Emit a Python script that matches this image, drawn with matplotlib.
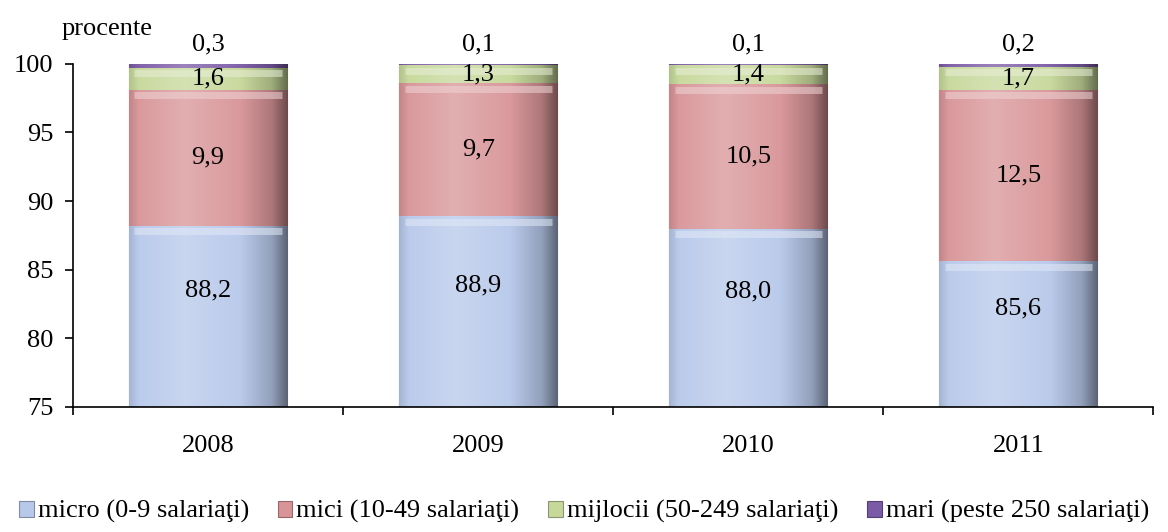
import numpy as np
import matplotlib
matplotlib.use("Agg")
import matplotlib.pyplot as plt
from matplotlib.colors import LinearSegmentedColormap, to_rgb

plt.rcParams['font.family'] = ['Liberation Serif', 'DejaVu Serif']

years = ['2008', '2009', '2010', '2011']
micro = [88.2, 88.9, 88.0, 85.6]
mici = [9.9, 9.7, 10.5, 12.5]
mijlocii = [1.6, 1.3, 1.4, 1.7]
mari = [0.3, 0.1, 0.1, 0.2]

series_names = ['micro (0-9 salariaţi)', 'mici (10-49 salariaţi)',
                'mijlocii (50-249 salariaţi)', 'mari (peste 250 salariaţi)']
colors = ['#b7c8ea', '#d89497', '#c6d89a', '#7b5aa6']

YMIN, YMAX = 75, 100
FS = 19


def shade(c, f):
    r = np.array(to_rgb(c))
    if f >= 0:
        return tuple(r + (1 - r) * f)
    return tuple(r * (1 + f))


def fmt(v):
    return f"{v:.1f}".replace('.', ',')


fig = plt.figure(figsize=(11.68, 5.32), dpi=100)
ax = fig.add_axes([0.0625, 0.235, 0.925, 0.645])

x = np.arange(len(years))
w = 0.585
bottom = np.zeros(len(years))
all_series = [micro, mici, mijlocii, mari]
for vals, name, col in zip(all_series, series_names, colors):
    vals = np.array(vals)
    bars = ax.bar(x, vals, w, bottom=bottom, color=col, label=name,
                  edgecolor=shade(col, -0.3), linewidth=0.8, zorder=2)
    cmap = LinearSegmentedColormap.from_list(
        'g', [(0.0, shade(col, -0.1)), (0.06, shade(col, 0.05)),
              (0.35, shade(col, 0.25)), (0.7, shade(col, 0.05)),
              (0.9, shade(col, -0.2)), (1.0, shade(col, -0.5))])
    grad = np.linspace(0, 1, 256).reshape(1, -1)
    for b in bars:
        x0 = b.get_x()
        y0 = max(b.get_y(), YMIN)
        y1 = min(b.get_y() + b.get_height(), YMAX)
        if y1 <= y0:
            continue
        ax.imshow(grad, cmap=cmap, aspect='auto', zorder=2.5,
                  extent=[x0, x0 + b.get_width(), y0, y1])
        # soft light band at the top of each segment
        if y1 - y0 > 1:
            ax.plot([x0 + 0.02, x0 + b.get_width() - 0.02], [y1 - 0.4, y1 - 0.4],
                    color=shade(col, 0.6), lw=5, alpha=0.55, zorder=2.6,
                    solid_capstyle='butt')
    bottom = bottom + vals

# value labels
for i in range(len(years)):
    ax.text(x[i], (YMIN + micro[i]) / 2 + 1.9, fmt(micro[i]),
            ha='center', va='center', fontsize=FS, zorder=5)
    ax.text(x[i], micro[i] + mici[i] / 2, fmt(mici[i]),
            ha='center', va='center', fontsize=FS, zorder=5)
    ax.text(x[i], micro[i] + mici[i] + mijlocii[i] / 2, fmt(mijlocii[i]),
            ha='center', va='center', fontsize=FS, zorder=5)
    ax.text(x[i], 101.4, fmt(mari[i]),
            ha='center', va='center', fontsize=FS, zorder=5, clip_on=False)

ax.set_xlim(-0.5, 3.5)
ax.set_ylim(YMIN, YMAX)
ax.set_yticks([75, 80, 85, 90, 95, 100])
ax.set_xticks(x)
ax.set_xticklabels(years)
ax.set_xticks([-0.5, 0.5, 1.5, 2.5, 3.5], minor=True)
ax.tick_params(axis='x', which='major', length=0, labelsize=FS, pad=20)
ax.tick_params(axis='x', which='minor', length=6, width=1.2, direction='out')
ax.tick_params(axis='y', length=6, width=1.2, labelsize=FS, pad=8)
for s in ['top', 'right']:
    ax.spines[s].set_visible(False)
ax.spines['left'].set_linewidth(1.2)
ax.spines['bottom'].set_linewidth(1.2)
ax.spines['left'].set_zorder(4)
ax.spines['bottom'].set_zorder(4)

fig.text(0.053, 0.945, 'procente', fontsize=FS, ha='left', va='center')

handles, labels = ax.get_legend_handles_labels()
fig.legend(handles, labels, loc='center', bbox_to_anchor=(0.5, 0.038), ncol=4,
           frameon=False, fontsize=19, handlelength=0.55, handleheight=0.55,
           handletextpad=0.15, columnspacing=1.1, borderaxespad=0, borderpad=0)

fig.savefig('out.png', dpi=100)
